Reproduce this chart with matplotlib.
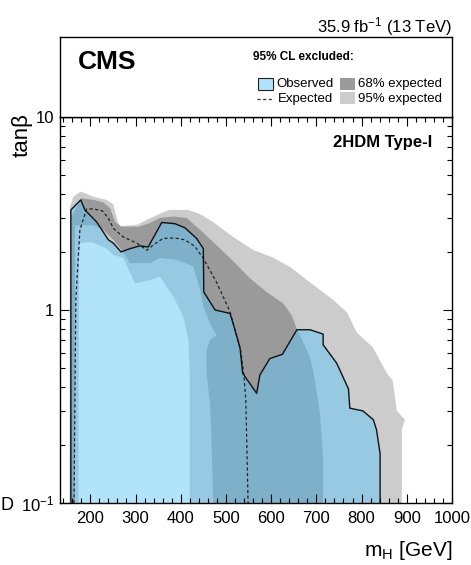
import matplotlib.pyplot as plt
from matplotlib.patches import Rectangle
from matplotlib.lines import Line2D
from matplotlib.ticker import FixedLocator, LogLocator, NullFormatter

plt.rcParams['font.family'] = ['Liberation Sans', 'DejaVu Sans']
plt.rcParams['mathtext.fontset'] = 'custom'
plt.rcParams['mathtext.rm'] = 'Liberation Sans'
plt.rcParams['mathtext.it'] = 'Liberation Sans:italic'
plt.rcParams['mathtext.bf'] = 'Liberation Sans:bold'

# exclusion contours, (m_H [GeV], tan beta)
obs_m = [157, 157, 179, 188, 214, 240, 251, 268, 288, 310, 328, 358, 387, 409, 435, 450,
         451, 476, 509, 516, 531, 537, 568, 575, 597, 625, 657, 686, 715, 715, 745, 771,
         774, 803, 826, 833, 841, 841]
obs_tb = [0.1, 3.3, 3.72, 3.30, 2.86, 2.31, 2.22, 2.00, 2.08, 2.15, 2.12, 2.84, 2.80, 2.67, 2.35, 2.08,
          1.24, 1.00, 0.96, 0.85, 0.64, 0.47, 0.37, 0.46, 0.56, 0.59, 0.79, 0.79, 0.75, 0.66, 0.53, 0.39,
          0.31, 0.30, 0.27, 0.24, 0.18, 0.1]

exp_m = [164, 168, 177, 192, 207, 227, 240, 251, 273, 303, 325, 339, 361, 387, 409, 431, 450,
         480, 509, 533, 540, 544, 549]
exp_tb = [0.1, 1.13, 2.6, 3.34, 3.34, 3.26, 2.99, 2.65, 2.39, 2.22, 2.04, 2.17, 2.35, 2.36, 2.31, 2.14, 1.85,
          1.38, 0.98, 0.61, 0.45, 0.34, 0.1]

p2_m = [154, 155, 162, 179, 207, 236, 251, 261, 266, 303, 325, 354, 376, 416, 443, 471, 516, 560,
        604, 642, 686, 737, 768, 790, 825, 856, 869, 878, 896, 889, 889]
p2_tb = [0.1, 3.4, 3.86, 4.11, 3.86, 3.72, 3.53, 2.85, 2.72, 2.76, 2.93, 3.16, 3.30, 3.30, 3.14, 2.86, 2.39, 2.05,
         1.87, 1.67, 1.39, 1.13, 0.97, 0.76, 0.64, 0.47, 0.43, 0.30, 0.27, 0.24, 0.1]

p1_m = [156, 157, 181, 207, 229, 244, 255, 269, 306, 328, 354, 384, 413, 443, 480, 516, 553, 590,
        627, 645, 655, 686, 695, 708, 715, 715]
p1_tb = [0.1, 3.0, 3.79, 3.72, 3.61, 3.36, 2.86, 2.70, 2.70, 2.80, 3.0, 3.05, 3.0, 2.60, 2.16, 1.79, 1.46, 1.24,
         1.08, 0.94, 0.82, 0.57, 0.46, 0.29, 0.173, 0.1]

m1_m = [166, 166, 207, 229, 251, 266, 288, 332, 354, 391, 428, 443, 450, 468, 480, 465, 457, 457,
        465, 468, 472]
m1_tb = [0.1, 2.75, 2.75, 2.60, 2.31, 2.09, 1.75, 1.75, 1.86, 1.82, 1.68, 1.27, 1.04, 0.82, 0.74, 0.70, 0.62, 0.47,
         0.32, 0.21, 0.1]

m2_m = [174, 175, 177, 203, 236, 251, 273, 299, 332, 354, 384, 406, 417, 420, 420]
m2_tb = [0.1, 1.8, 2.22, 2.25, 2.08, 1.93, 1.86, 1.37, 1.43, 1.49, 1.17, 0.92, 0.70, 0.47, 0.1]

x_ticks = [200, 300, 400, 500, 600, 700, 800, 900, 1000]
y_ticks = [0.1, 1, 10]
y_labels = ['$10^{-1}$', '1', '10']

light_gray = '#cccccc'
dark_gray = '#9a9a9a'
obs_fill = (100/255, 200/255, 248/255)

W, H = 471, 565
fig = plt.figure(figsize=(W/100, H/100), dpi=100)
ax = fig.add_axes([60/W, 62/H, 392/W, 386/H])
top = fig.add_axes([60/W, 448/H, 392/W, 80/H])

# bands: +2sigma, +1sigma, -1sigma, -2sigma
ax.fill(p2_m, p2_tb, color=light_gray, lw=0)
ax.fill(p1_m, p1_tb, color=dark_gray, lw=0)
ax.fill(m1_m, m1_tb, color=light_gray, lw=0)
ax.fill(m2_m, m2_tb, color='white', lw=0)
ax.plot(exp_m, exp_tb, color='#222222', lw=0.9, ls=(0, (2.5, 2)))
ax.fill(obs_m, obs_tb, color=obs_fill, alpha=0.5, lw=0)
ax.plot(obs_m, obs_tb, color='#111111', lw=1.0)

ax.set_yscale('log')
ax.set_xlim(133, 1000)
ax.set_ylim(0.1, 10)
ax.xaxis.set_major_locator(FixedLocator(x_ticks))
ax.xaxis.set_minor_locator(FixedLocator(list(range(140, 1000, 20))))
ax.set_yticks(y_ticks)
ax.set_yticklabels(y_labels)
ax.yaxis.set_minor_locator(LogLocator(base=10, subs=range(2, 10)))
ax.yaxis.set_minor_formatter(NullFormatter())
ax.tick_params(which='both', direction='in', top=True, right=True, width=0.8, labelsize=12)
ax.tick_params(which='major', length=6.5)
ax.tick_params(which='minor', length=3.5)
ax.tick_params(axis='x', pad=6)
ax.tick_params(axis='y', pad=4)
for s in ax.spines.values():
    s.set_linewidth(1.0)

ax.set_xlabel('m$_\\mathregular{H}$ [GeV]', fontsize=15, loc='right')
ax.xaxis.set_label_coords(1.0, -0.093)
ax.xaxis.label.set_va('top')
fig.text(22/W, 1 - 135/H, 'tan\u03b2', rotation=90, ha='center', va='center', fontsize=16)
fig.text(1/W, 1 - 505/H, 'D', ha='left', va='center', fontsize=13)

ax.text(0.949, 0.935, '2HDM Type-I', transform=ax.transAxes, ha='right', va='center',
        fontsize=12, fontweight='bold')

# header box with legend
top.set_xlim(0, 1)
top.set_ylim(0, 1)
top.set_xticks([])
top.set_yticks([])
for s in top.spines.values():
    s.set_linewidth(1.0)

top.text(0.046, 0.69, 'CMS', fontsize=19, fontweight='bold', ha='left', va='center')
top.text(0.492, 0.75, '95% CL excluded:', fontsize=8.5, fontweight='bold', ha='left', va='center')

top.add_patch(Rectangle((0.505, 0.3375), 0.038, 0.15, facecolor=obs_fill, alpha=0.5, lw=0))
top.add_patch(Rectangle((0.505, 0.3375), 0.038, 0.15, facecolor='none', edgecolor='#222222', lw=0.8))
top.text(0.551, 0.4125, 'Observed', fontsize=9.5, ha='left', va='center')
top.add_patch(Rectangle((0.714, 0.3375), 0.039, 0.15, facecolor=dark_gray, lw=0))
top.text(0.760, 0.4125, '68% expected', fontsize=9.5, ha='left', va='center')

top.add_line(Line2D([0.503, 0.543], [0.225, 0.225], color='#333333', lw=0.9, ls=(0, (2.5, 2))))
top.text(0.556, 0.225, 'Expected', fontsize=9.5, ha='left', va='center')
top.add_patch(Rectangle((0.714, 0.1625), 0.039, 0.15, facecolor=light_gray, lw=0))
top.text(0.760, 0.225, '95% expected', fontsize=9.5, ha='left', va='center')

fig.text(452/W, 1 - 27/H, '35.9 fb$^{-1}$ (13 TeV)', ha='right', va='center', fontsize=12)

fig.savefig('out.png', dpi=100)
